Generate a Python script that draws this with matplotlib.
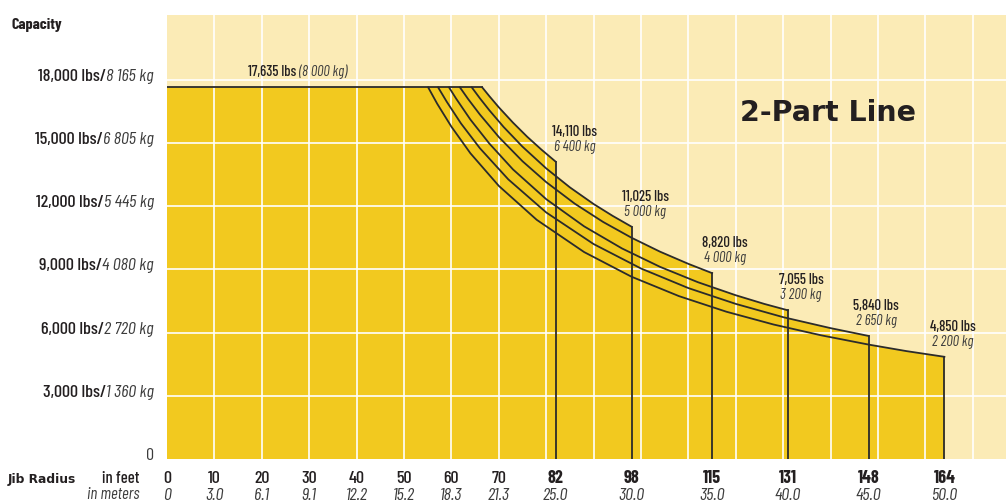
import matplotlib
matplotlib.use('Agg')
import matplotlib.pyplot as plt
from matplotlib.transforms import offset_copy

plt.rcParams['font.family'] = ['Barlow Condensed', 'DejaVu Sans']

# capacity chart values
max_lbs = 17635
max_kg = "8 000"

ft_ticks = [0, 10, 20, 30, 40, 50, 60, 70, 82, 98, 115, 131, 148, 164]
m_ticks = ["0", "3.0", "6.1", "9.1", "12.2", "15.2", "18.3", "21.3",
           "25.0", "30.0", "35.0", "40.0", "45.0", "50.0"]

lbs_ticks = [3000, 6000, 9000, 12000, 15000, 18000]
kg_ticks = ["1 360", "2 720", "4 080", "5 445", "6 805", "8 165"]

jib_ft = [82, 98, 115, 131, 148, 164]
end_lbs = [14110, 11025, 8820, 7055, 5840, 4850]
end_kg = ["6 400", "5 000", "4 000", "3 200", "2 650", "2 200"]

# load curves, one per jib length (radius ft, lbs)
r82 = [66.5, 68, 70, 73, 76, 79, 82]
c82 = [17635, 17220, 16690, 15960, 15290, 14680, 14110]
r98 = [64.3, 66, 68, 71, 75, 80, 85, 90, 94, 98]
c98 = [17635, 17120, 16550, 15760, 14820, 13790, 12890, 12100, 11540, 11025]
r115 = [61.8, 63.5, 66, 70, 75, 80, 86, 92, 98, 104, 110, 115]
c115 = [17635, 17090, 16350, 15280, 14130, 13140, 12120, 11250, 10500,
        9840, 9260, 8820]
r131 = [59.5, 61, 64, 68, 73, 80, 88, 96, 104, 112, 120, 126, 131]
c131 = [17635, 17100, 16110, 14970, 13740, 12330, 11040, 9990, 9120,
        8390, 7770, 7360, 7055]
r148 = [57.2, 59, 62, 66, 72, 80, 90, 100, 110, 120, 130, 140, 148]
c148 = [17635, 16960, 15930, 14750, 13270, 11700, 10200, 9040, 8110,
        7360, 6730, 6210, 5840]
r164 = [55.1, 57, 60, 64, 70, 78, 88, 98, 108, 118, 128, 138, 148, 156, 164]
c164 = [17635, 16860, 15770, 14510, 12960, 11350, 9820, 8650, 7730,
        6990, 6380, 5870, 5430, 5120, 4850]

curves = [(r82, c82), (r98, c98), (r115, c115),
          (r131, c131), (r148, c148), (r164, c164)]

light = '#FBEBB6'
gold = '#F2C91F'
ink = '#2B2B2B'
txt = '#231F20'
grey = '#3C3C3C'

fig = plt.figure(figsize=(10.06, 5.02), dpi=100)
ax = fig.add_axes([167 / 1006, 42 / 502, 839 / 1006, 444 / 502])
ax.set_xlim(0, 177)
ax.set_ylim(0, 21070)
ax.set_facecolor(light)
for s in ax.spines.values():
    s.set_visible(False)
ax.set_xticks([])
ax.set_yticks([])

# filled envelope
for r, c in curves:
    ax.fill([0, 0] + r + [r[-1]], [0, max_lbs] + c + [0],
            color=gold, lw=0, zorder=1)

# white grid
for x in range(10, 180, 10):
    ax.axvline(x, color='white', lw=1.2, zorder=2)
for y in lbs_ticks:
    ax.axhline(y, color='white', lw=1.2, zorder=2)

# curves and jib end lines
ax.plot([0, r82[0]], [max_lbs, max_lbs], color=ink, lw=1.3, zorder=3)
for r, c in curves:
    ax.plot(r, c, color=ink, lw=1.3, zorder=3)
    ax.plot([r[-1], r[-1]], [0, c[-1]], color=ink, lw=1.3, zorder=3)

renderer = fig.canvas.get_renderer()

# y labels: "18,000 lbs/" + italic "8 165 kg"
ytrans = ax.get_yaxis_transform()
for lbs, kg in zip(lbs_ticks, kg_ticks):
    t = ax.text(0, lbs, kg + " kg", style='italic', ha='right',
                va='baseline', fontsize=13, color=grey,
                transform=offset_copy(ytrans, x=-13, units='dots'))
    w = t.get_window_extent(renderer).width
    ax.text(0, lbs, f"{lbs:,} lbs/", ha='right', va='baseline',
            fontsize=13, fontweight=500, color=txt,
            transform=offset_copy(ytrans, x=-13 - w, units='dots'))
ax.text(0, 0, "0", ha='right', va='baseline', fontsize=13, color=grey,
        transform=offset_copy(ytrans, x=-13, units='dots'))

# x labels, feet and meters
xtrans = ax.get_xaxis_transform()
for ft, m in zip(ft_ticks, m_ticks):
    ax.text(ft, 0, str(ft), ha='center', va='baseline', fontsize=13,
            fontweight=700 if ft in jib_ft else 500, color=txt,
            transform=offset_copy(xtrans, y=-22.7, units='dots'))
    ax.text(ft, 0, m, ha='center', va='baseline', fontsize=13,
            style='italic', color=grey,
            transform=offset_copy(xtrans, y=-40, units='dots'))

# capacity at each jib end
label_dx = [19, 13.5, 12.7, 13, 7.7, 8]
for ft, lbs, kg, dx in zip(jib_ft, end_lbs, end_kg, label_dx):
    ax.annotate(f"{lbs:,} lbs", xy=(ft, lbs), xytext=(dx, 31),
                textcoords='offset pixels', ha='center', va='center',
                fontsize=10.5, fontweight=500, color=txt)
    ax.annotate(f"{kg} kg", xy=(ft, lbs), xytext=(dx, 16),
                textcoords='offset pixels', ha='center', va='center',
                fontsize=10.5, style='italic', color=grey)

# max capacity label
t = ax.text(17.1, max_lbs, f"{max_lbs:,} lbs", ha='left', va='baseline',
            fontsize=10.5, fontweight=500, color=txt,
            transform=offset_copy(ax.transData, y=12, units='dots'))
w = t.get_window_extent(renderer).width
ax.text(17.1, max_lbs, f" ({max_kg} kg)", ha='left', va='baseline',
        fontsize=10.5, style='italic', color=grey,
        transform=offset_copy(ax.transData, x=w, y=12, units='dots'))

ax.text(120.9, 16100, "2-Part Line", family='DejaVu Sans',
        fontweight='bold', fontsize=20.5, color=txt, va='baseline',
        zorder=4)

fig.text(12 / 1006, 1 - 29 / 502, "Capacity", fontweight='bold',
         fontsize=11.5, color=txt, va='baseline')
fig.text(8 / 1006, 1 - 482.7 / 502, "Jib Radius", family='DejaVu Sans',
         fontweight='bold', fontsize=8.8, color=txt, va='baseline')
fig.text(139 / 1006, 1 - 482.7 / 502, "in feet", ha='right',
         fontsize=12, fontweight=500, color=txt, va='baseline')
fig.text(139 / 1006, 1 - 499.5 / 502, "in meters", ha='right',
         style='italic', fontsize=12, color=grey, va='baseline')

fig.savefig('out.png', dpi=100)
